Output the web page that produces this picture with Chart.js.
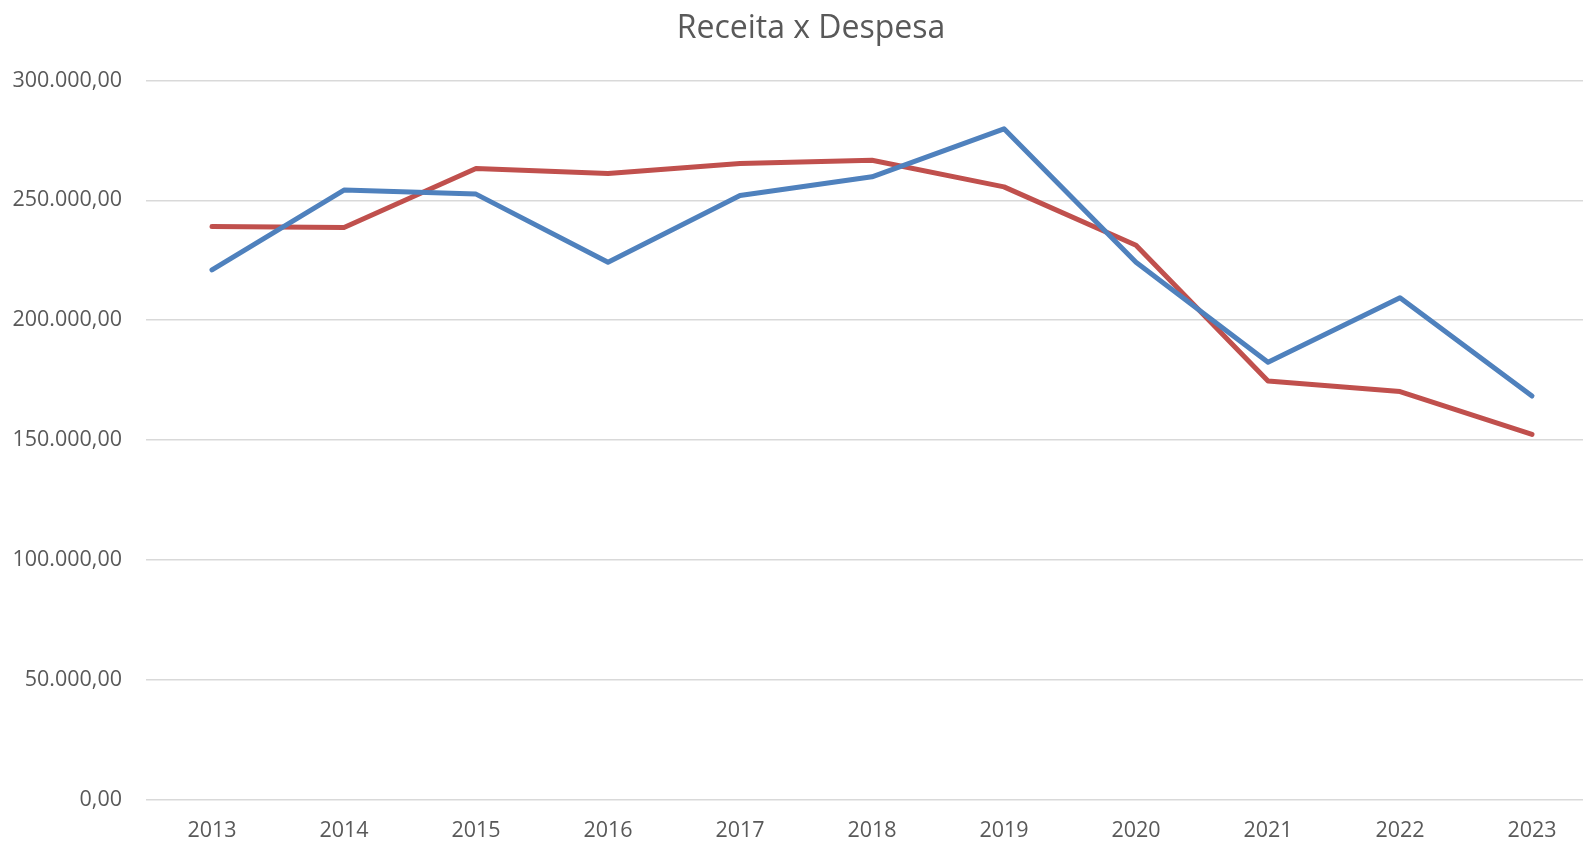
<!DOCTYPE html>
<html>
<head>
<meta charset="utf-8">
<script src="https://cdn.jsdelivr.net/npm/chart.js@4.4.1/dist/chart.umd.min.js"></script>
<style>
  html, body { margin: 0; padding: 0; background: #ffffff; overflow: hidden; }
  #wrap { width: 1622px; height: 842px; }
</style>
</head>
<body>
<div id="wrap"><canvas id="c" width="1622" height="842"></canvas></div>
<script>
const categories = ["2013","2014","2015","2016","2017","2018","2019","2020","2021","2022","2023"];
const receita = [221000, 254300, 252600, 224200, 252000, 259800, 279800, 224200, 182500, 209400, 168400];
const despesa = [239100, 238700, 263300, 261200, 265400, 266700, 255600, 231300, 174700, 170300, 152400];
const yTicks = [0, 50000, 100000, 150000, 200000, 250000, 300000];

function fmtBR(v) {
  const neg = v < 0;
  const abs = Math.abs(v);
  const intPart = Math.floor(abs).toString().replace(/\B(?=(\d{3})+(?!\d))/g, ".");
  const dec = Math.round((abs - Math.floor(abs)) * 100).toString().padStart(2, "0");
  return (neg ? "-" : "") + intPart + "," + dec;
}

const fontFamily = "'Open Sans', 'Noto Sans', sans-serif";
const grey = "#595959";

// let the y tick labels use the left margin too (labels are not clipped at the padding)
const widenLabelArea = {
  id: "widenLabelArea",
  afterLayout(chart) { chart.scales.y.left = 0; }
};

new Chart(document.getElementById("c"), {
  type: "line",
  data: {
    labels: categories,
    datasets: [
      {
        label: "Receita",
        data: receita,
        borderColor: "#4F81BD",
        backgroundColor: "#4F81BD",
        borderWidth: 5,
        pointRadius: 0,
        tension: 0,
        borderCapStyle: "round",
        borderJoinStyle: "round"
      },
      {
        label: "Despesa",
        data: despesa,
        borderColor: "#C0504D",
        backgroundColor: "#C0504D",
        borderWidth: 5,
        pointRadius: 0,
        tension: 0,
        borderCapStyle: "round",
        borderJoinStyle: "round"
      }
    ]
  },
  plugins: [widenLabelArea],
  options: {
    responsive: false,
    animation: false,
    layout: { padding: { left: 24, right: 24, top: 0, bottom: 0 } },
    plugins: {
      legend: { display: false },
      tooltip: { enabled: false },
      title: {
        display: true,
        text: "Receita x Despesa",
        color: grey,
        font: { family: fontFamily, size: 32, weight: "normal" },
        padding: { top: 10, bottom: 32 }
      }
    },
    scales: {
      x: {
        type: "category",
        offset: true,
        grid: { display: false, drawTicks: false },
        border: { display: false },
        afterFit: (scale) => { scale.height = 42; },
        ticks: {
          color: grey,
          font: { family: fontFamily, size: 21.5 },
          padding: 18,
          maxRotation: 0,
          autoSkip: false
        }
      },
      y: {
        min: 0,
        max: 300000,
        afterBuildTicks: (axis) => { axis.ticks = yTicks.map(v => ({ value: v })); },
        afterFit: (scale) => { scale.width = 122; },
        grid: { color: "#d9d9d9", lineWidth: 1.6, drawTicks: false },
        border: { display: false },
        ticks: {
          color: grey,
          font: { family: fontFamily, size: 21.5 },
          padding: 24,
          callback: (v) => fmtBR(v)
        }
      }
    }
  }
});
</script>
</body>
</html>
